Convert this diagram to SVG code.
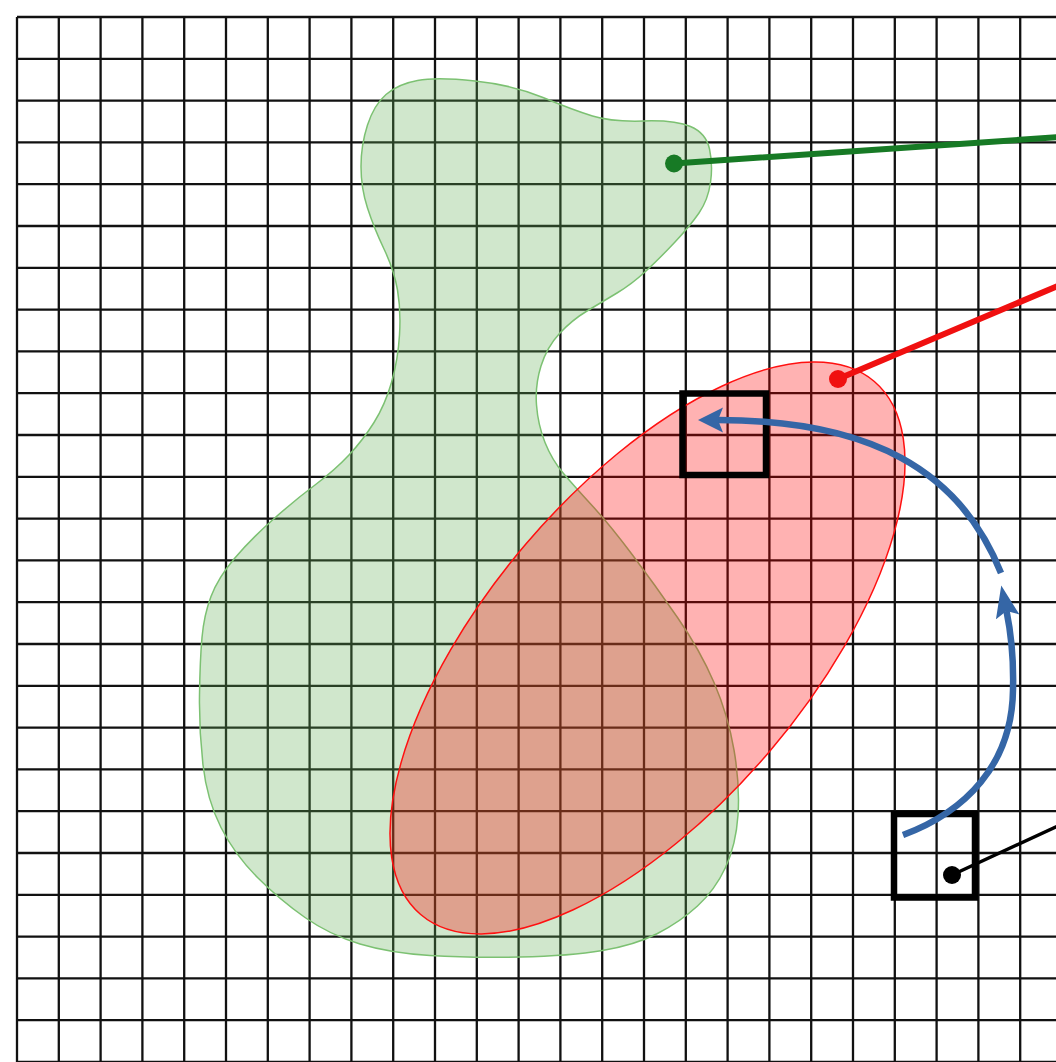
<svg xmlns="http://www.w3.org/2000/svg" width="1056" height="1062" viewBox="0 0 1056 1062">
  <style>
    .grid { fill: none; stroke: #111; stroke-width: 2.3; }
    .blob { fill: rgba(99,176,86,0.3); stroke: #7cc172; stroke-width: 1.5; }
    .ell { fill: rgba(255,0,0,0.3); stroke: #ff1010; stroke-width: 1.5; }
    .box { fill: none; stroke: #000; stroke-width: 6.5; }
    .lead { fill: none; stroke-linecap: round; }
    .arrow { fill: none; stroke: #3566a6; stroke-width: 6.5; }
    .head { fill: #3566a6; }
  </style>
  <defs>
    <marker id="ah" markerUnits="userSpaceOnUse" markerWidth="27" markerHeight="27" viewBox="0 0 27 27" refX="5" refY="13" orient="auto">
      <path class="head" d="M0,0.5 L25,13 L0,25.5 L5,13 Z"/>
    </marker>
    <marker id="ah-long" markerUnits="userSpaceOnUse" markerWidth="34" markerHeight="27" viewBox="0 0 34 27" refX="6" refY="13" orient="auto">
      <path class="head" d="M0,1 L32,13 L0,25 L6,13 Z"/>
    </marker>
  </defs>
  <rect width="1056" height="1062" fill="#fff"/>
  <g id="grid">
    <path class="grid" d="M17,17V1062 M58.8,17V1062 M100.6,17V1062 M142.4,17V1062 M184.2,17V1062 M226,17V1062 M267.8,17V1062 M309.6,17V1062 M351.4,17V1062 M393.2,17V1062 M435,17V1062 M476.8,17V1062 M518.6,17V1062 M560.4,17V1062 M602.2,17V1062 M644,17V1062 M685.8,17V1062 M727.6,17V1062 M769.4,17V1062 M811.2,17V1062 M853,17V1062 M894.8,17V1062 M936.6,17V1062 M978.4,17V1062 M1020.2,17V1062 M17,17H1062 M17,58.8H1062 M17,100.6H1062 M17,142.4H1062 M17,184.2H1062 M17,226H1062 M17,267.8H1062 M17,309.6H1062 M17,351.4H1062 M17,393.2H1062 M17,435H1062 M17,476.8H1062 M17,518.6H1062 M17,560.4H1062 M17,602.2H1062 M17,644H1062 M17,685.8H1062 M17,727.6H1062 M17,769.4H1062 M17,811.2H1062 M17,853H1062 M17,894.8H1062 M17,936.6H1062 M17,978.4H1062 M17,1020.2H1062 M17,1062H1062"/>
  </g>
  <g id="green-region">
    <path class="blob" d="M475,81 Q513,85 543,97.5 Q573,110 592.5,116 Q612,122 643.5,121 Q675,120 690.5,126.5 Q706,133 709.5,149 Q713,165 710.5,182.5 Q708,200 699,213 Q690,226 675,242 Q660,258 646,271 Q632,284 617,293 Q602,302 587,311 Q572,320 559.5,333.5 Q547,347 541,366 Q535,385 536.5,405 Q538,425 545,442.5 Q552,460 563.5,473.5 Q575,487 592.5,506 Q610,525 632.5,555 Q655,585 677.5,617.5 Q700,650 714,682.5 Q728,715 734,750 Q740,785 738,815 Q736,845 725.5,867.5 Q715,890 697.5,906 Q680,922 657.5,933.5 Q635,945 602.5,950.5 Q570,956 520,957 Q470,958 430,955.5 Q390,953 360,944 Q330,935 305,917.5 Q280,900 257.5,877.5 Q235,855 221,827.5 Q207,800 203,765 Q199,730 199.5,695 Q200,660 202,637.5 Q204,615 211,596.5 Q218,578 234,559 Q250,540 272.5,520 Q295,500 315,485 Q335,470 349,455 Q363,440 374,422.5 Q385,405 391.5,382.5 Q398,360 399.5,335 Q401,310 397.5,290 Q394,270 384,249 Q374,228 367.5,208 Q361,188 361,166.5 Q361,145 367.5,125 Q374,105 386,94.5 Q398,84 417.5,80.5 Q437,77 475,81 Z"/>
  </g>
  <g id="red-region">
    <ellipse class="ell" cx="647.5" cy="648" rx="350" ry="160" transform="rotate(-49.6 647.5 648)"/>
  </g>
  <g id="box-top">
    <rect class="box" x="682.5" y="393.5" width="83.5" height="81.5"/>
  </g>
  <g id="box-bottom">
    <rect class="box" x="894" y="814" width="81" height="83.5"/>
  </g>
  <g id="connectors">
    <path class="lead" d="M674,163.5 L1060,137" stroke="#177a25" stroke-width="6"/>
    <circle cx="674" cy="163.5" r="9" fill="#177a25"/>
    <path class="lead" d="M838,379 L1060,285" stroke="#f01010" stroke-width="6"/>
    <circle cx="838" cy="379" r="9" fill="#f01010"/>
    <path class="lead" d="M952,875 L1060,825" stroke="#000" stroke-width="3.5"/>
    <circle cx="952" cy="875" r="9" fill="#000"/>
    <path class="arrow" d="M903,835 C965,812 1012,765 1013,690 C1014,652 1010,628 1006.5,611" marker-end="url(#ah-long)"/>
    <path class="arrow" d="M1001,573 C960,470 870,420 718,420" marker-end="url(#ah)"/>
  </g>
</svg>
